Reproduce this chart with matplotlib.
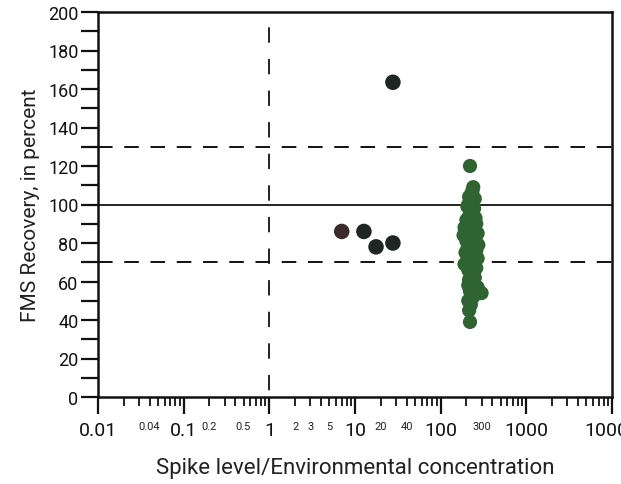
import matplotlib
matplotlib.use("Agg")
import matplotlib.pyplot as plt
from matplotlib.ticker import FixedLocator, FixedFormatter, NullFormatter
import matplotlib.transforms as mtransforms

plt.rcParams['font.family'] = ['Roboto', 'DejaVu Sans']

# ---- data ----
black_x = [7.0, 12.7, 17.6, 27.7, 27.7]
black_y = [86, 86, 78, 80, 163.5]
black_colors = ['#3b2b2d', '#1f2522', '#1f2522', '#1f2522', '#1f2522']

green_x = [220, 240, 230, 215, 250, 225, 205, 245, 235, 215, 255, 200, 230, 260,
           190, 215, 245, 270, 185, 225, 255, 200, 240, 275, 210, 230, 260, 195,
           250, 220, 270, 205, 240, 190, 225, 260, 210, 235, 250, 215, 230, 270,
           220, 300, 240, 210, 225, 215, 220,
           235, 225, 210, 240, 220, 245, 230, 215, 250, 225, 235, 205, 240, 220,
           230, 250, 210, 235, 225, 245, 215, 230, 240, 220, 235, 210, 225, 230,
           245, 220, 235, 225, 215, 230]
green_y = [120, 109, 106, 104, 103, 101, 99, 98, 96, 94, 93, 92, 91, 90,
           88, 87, 86, 85, 84, 83, 82, 81, 80, 79, 78, 77, 76, 75,
           74, 73, 72, 71, 70, 69, 68, 67, 66, 64, 62, 61, 59, 57,
           56, 54, 52, 50, 48, 45, 39,
           107, 104, 100, 97, 95, 92, 89, 86, 84, 81, 79, 77, 75, 73,
           71, 70, 68, 66, 64, 63, 60, 58, 56, 55, 53, 58, 62, 88,
           90, 94, 83, 76, 72, 66]

major_x = [0.01, 0.1, 1, 10, 100, 1000, 10000]
major_x_labels = ['0.01', '0.1', '1', '10', '100', '1000', '10000']
small_x = [0.04, 0.2, 0.5, 2, 3, 5, 20, 40, 300]
small_x_labels = ['0.04', '0.2', '0.5', '2', '3', '5', '20', '40', '300']

y_ticks = list(range(0, 201, 10))
y_labels = [str(v) if v % 20 == 0 else '' for v in y_ticks]

ref_solid = 100
ref_dashed = [130, 70]
ref_vline = 1

# ---- figure ----
fig = plt.figure(figsize=(6.21, 4.85), dpi=100)
ax = fig.add_axes([98/621, (485-398)/485, (612-98)/621, (398-13)/485])
ax.set_xscale('log')
ax.set_xlim(0.01, 10000)
ax.set_ylim(0, 200)

# reference lines
ax.axhline(ref_solid, color='#111111', lw=1.3, zorder=1)
for yv in ref_dashed:
    ax.axhline(yv, color='#111111', lw=1.4, linestyle=(0, (7.5, 6.0)), zorder=1)
ax.plot([ref_vline, ref_vline], [200, 0], color='#111111', lw=1.3,
        linestyle=(9.0, (8.5, 9.0)), zorder=1)

# points
ax.scatter(green_x, green_y, s=105, color='#2f6432', edgecolors='none', zorder=3)
ax.scatter(black_x, black_y, s=125, color=black_colors, edgecolors='none', zorder=3)

# spines
for sp in ax.spines.values():
    sp.set_linewidth(1.8)
    sp.set_color('#111111')

# y ticks
ax.yaxis.set_major_locator(FixedLocator(y_ticks))
ax.yaxis.set_major_formatter(FixedFormatter(y_labels))
ax.tick_params(axis='y', which='major', direction='out', length=12, width=1.6,
               pad=2, labelsize=13, colors='#111111')
ax.tick_params(axis='y', which='minor', left=False)

# x ticks
ax.xaxis.set_major_locator(FixedLocator(major_x))
ax.xaxis.set_major_formatter(FixedFormatter(major_x_labels))
ax.xaxis.set_minor_formatter(NullFormatter())
ax.tick_params(axis='x', which='major', direction='out', length=12, width=1.6,
               pad=5, labelsize=14, colors='#111111')
ax.tick_params(axis='x', which='minor', direction='out', length=6.5, width=1.3,
               colors='#111111')

trans = mtransforms.blended_transform_factory(ax.transData, ax.transAxes)
for xv, lab in zip(small_x, small_x_labels):
    ax.text(xv, -0.075, lab, transform=trans, ha='center', va='center',
            fontsize=8, color='#222222')

ax.set_xlabel('Spike level/Environmental concentration', fontsize=16,
              color='#222222', labelpad=13)
ax.set_ylabel('FMS Recovery, in percent', fontsize=15, color='#222222',
              labelpad=6)

fig.savefig('out.png', dpi=100)
